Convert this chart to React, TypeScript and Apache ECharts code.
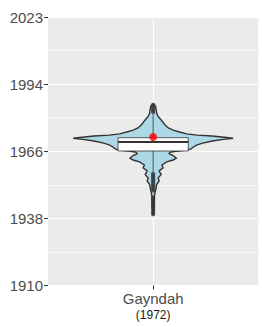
import React, { useEffect, useRef } from "react";
import * as echarts from "echarts";

// ---- data ----
const BASE_YEAR = 1910;
const TOP_YEAR = 2023;
const Y_STEP = 28.25; // tick spacing in years (labels floored)

const categories = ["Gayndah"];
const categorySubLabels = ["(1972)"];

// violin outline: year and relative density (1 = widest)
const violinYears = [
  1986.4, 1985.5, 1983.9, 1982.6, 1981.3, 1980.1, 1978.8, 1977.5, 1976.3, 1975.4,
  1974.6, 1973.8, 1973.3, 1972.9, 1972.3, 1972.0, 1971.5, 1970.8, 1969.9, 1969.2,
  1968.2, 1967.4, 1966.9, 1966.5, 1966.0, 1965.5, 1964.7, 1963.6, 1962.8, 1962.0,
  1960.7, 1959.5, 1958.2, 1956.7, 1955.2, 1954.0, 1952.5, 1951.0, 1949.3, 1947.7,
  1943.9, 1939.7,
];
const violinDensity = [
  0.0, 0.03, 0.038, 0.044, 0.06, 0.09, 0.12, 0.15, 0.19, 0.25,
  0.33, 0.42, 0.55, 0.74, 0.92, 1.0, 0.88, 0.74, 0.62, 0.55,
  0.5, 0.47, 0.4, 0.28, 0.21, 0.2, 0.25, 0.29, 0.25, 0.17,
  0.11, 0.125, 0.075, 0.1, 0.062, 0.075, 0.044, 0.037, 0.025, 0.016,
  0.012, 0.0,
];

const q1Values = [1966.6];
const medianValues = [1970.4];
const q3Values = [1972.2];
const whiskerLowValues = [1958];
const whiskerHighValues = [1982];
const meanValues = [1972.5];
const outlierYears = [
  1983, 1984, 1985, 1986,
  1940, 1941, 1942, 1943, 1944, 1945, 1946, 1947, 1950, 1951, 1952, 1953, 1954, 1955, 1956, 1957,
];

// ---- style ----
const VIOLIN_HALF_FRAC = 0.38; // of band width
const BOX_HALF_FRAC = 0.167;
const FONT = "'Liberation Sans', Arial, sans-serif";

export default function App() {
  const ref = useRef<HTMLDivElement>(null);

  useEffect(() => {
    if (!ref.current) return;
    const chart = echarts.init(ref.current, undefined, { renderer: "svg" });
    const off = (y: number) => y - BASE_YEAR;

    const option: any = {
      animation: false,
      backgroundColor: "#ffffff",
      grid: {
        left: 48,
        right: 3.7,
        top: 17,
        bottom: 41.5,
        show: true,
        backgroundColor: "#EBEBEB",
        borderWidth: 0,
      },
      xAxis: [
        {
          type: "category",
          data: categories,
          boundaryGap: true,
          axisLine: { show: false },
          axisTick: { show: true, alignWithLabel: true, length: 4, lineStyle: { color: "#333333", width: 1 } },
          splitLine: { show: false },
          axisLabel: {
            margin: 4,
            formatter: (v: string, i: number) => `{a|${v}}\n{b|${categorySubLabels[i]}}`,
            rich: {
              a: { fontSize: 15, color: "#4D4D4D", lineHeight: 17, fontFamily: FONT },
              b: { fontSize: 12, color: "#1A1A1A", lineHeight: 17, fontFamily: FONT },
            },
          },
        },
        {
          type: "value",
          min: 0,
          max: 2,
          interval: 1,
          position: "top",
          axisLine: { show: false },
          axisTick: { show: false },
          axisLabel: { show: false },
          splitLine: {
            show: true,
            showMinLine: false,
            showMaxLine: false,
            lineStyle: { color: "#FFFFFF", width: 1.1 },
          },
        },
      ],
      yAxis: {
        type: "value",
        min: 0,
        max: off(TOP_YEAR),
        interval: Y_STEP,
        axisLine: { show: false },
        axisTick: { show: true, length: 4, lineStyle: { color: "#333333", width: 1 } },
        axisLabel: {
          margin: 5,
          fontSize: 15,
          color: "#4D4D4D",
          fontFamily: FONT,
          formatter: (v: number) => String(Math.floor(v + BASE_YEAR + 1e-9)),
        },
        splitLine: { show: true, lineStyle: { color: "#FFFFFF", width: 1.1 } },
        minorTick: { show: false, splitNumber: 2 },
        minorSplitLine: { show: true, lineStyle: { color: "#FFFFFF", width: 0.55 } },
      },
      series: [
        {
          type: "custom",
          xAxisIndex: 0,
          data: categories.map((_, i) => [i, off(medianValues[i])]),
          renderItem: (params: any, api: any) => {
            const i = api.value(0);
            const cx = api.coord([i, 0])[0];
            const band = api.size([1, 0])[0];
            const yPix = (yr: number) => api.coord([i, off(yr)])[1];
            const halfMax = band * VIOLIN_HALF_FRAC;
            const boxHalf = band * BOX_HALF_FRAC;
            const right = violinYears.map((yr, k) => [cx + violinDensity[k] * halfMax, yPix(yr)]);
            const left = violinYears
              .map((yr, k) => [cx - violinDensity[k] * halfMax, yPix(yr)])
              .reverse();
            const yq1 = yPix(q1Values[i]);
            const yq3 = yPix(q3Values[i]);
            const ymed = yPix(medianValues[i]);
            return {
              type: "group",
              children: [
                {
                  type: "polygon",
                  shape: { points: right.concat(left) },
                  style: { fill: "#ADD8E6", stroke: "#333333", lineWidth: 1.4 },
                },
                {
                  type: "line",
                  shape: { x1: cx, y1: yPix(whiskerHighValues[i]), x2: cx, y2: yq3 },
                  style: { stroke: "#333333", lineWidth: 0.8 },
                },
                {
                  type: "line",
                  shape: { x1: cx, y1: yq1, x2: cx, y2: yPix(whiskerLowValues[i]) },
                  style: { stroke: "#333333", lineWidth: 0.8 },
                },
                {
                  type: "rect",
                  shape: { x: cx - boxHalf, y: yq3, width: boxHalf * 2, height: yq1 - yq3 },
                  style: { fill: "#FFFFFF", stroke: "#333333", lineWidth: 0.8 },
                },
                {
                  type: "line",
                  shape: { x1: cx - boxHalf, y1: ymed, x2: cx + boxHalf, y2: ymed },
                  style: { stroke: "#333333", lineWidth: 2.2 },
                },
              ],
            };
          },
          z: 2,
        },
        {
          type: "scatter",
          xAxisIndex: 0,
          data: outlierYears.map((y) => [0, off(y)]),
          symbol: "circle",
          symbolSize: 4.4,
          itemStyle: { color: "#333333" },
          z: 3,
        },
        {
          type: "scatter",
          xAxisIndex: 0,
          data: meanValues.map((m, i) => [i, off(m)]),
          symbol: "circle",
          symbolSize: 8,
          itemStyle: { color: "#FF0000" },
          z: 4,
        },
      ],
    };

    chart.setOption(option);
    return () => chart.dispose();
  }, []);

  return (
    <div
      ref={ref}
      style={{ position: "fixed", left: 0, top: 0, width: 262, height: 327 }}
    />
  );
}
